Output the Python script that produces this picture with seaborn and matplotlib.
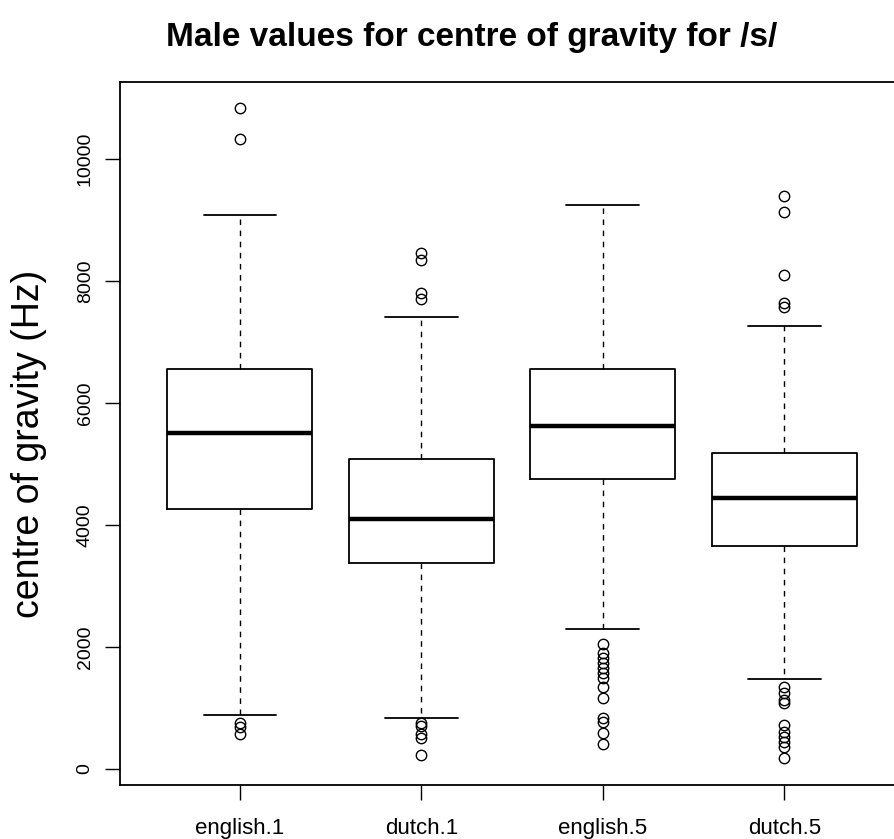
import matplotlib
matplotlib.use("Agg")
import matplotlib.pyplot as plt
import seaborn as sns

sns.set_style("white")
plt.rcParams["font.family"] = ["Liberation Sans", "DejaVu Sans"]
plt.rcParams["text.color"] = "black"
plt.rcParams["axes.labelcolor"] = "black"
plt.rcParams["xtick.color"] = "black"
plt.rcParams["ytick.color"] = "black"

# Summary statistics for each condition (Hz)
groups = ["english.1", "dutch.1", "english.5", "dutch.5"]
q1 = [4262, 3377, 4754, 3656]
medians = [5503, 4093, 5623, 4437]
q3 = [6562, 5077, 6562, 5175]
whisker_low = [880, 830, 2290, 1475]
whisker_high = [9082, 7410, 9246, 7268]

# Outlying observations beyond the whiskers
outliers_english1 = [10831, 10323, 760, 690, 570]
outliers_dutch1 = [8454, 8344, 7798, 7700, 760, 700, 580, 500, 230]
outliers_english5 = [2049, 1896, 1814, 1732, 1650, 1568, 1486, 1350, 1159,
                     830, 776, 585, 410]
outliers_dutch5 = [9393, 9136, 8098, 7644, 7579, 1339, 1240, 1131, 1076,
                   721, 612, 530, 448, 366, 175]
outliers = [outliers_english1, outliers_dutch1, outliers_english5, outliers_dutch5]

yticks = [0, 2000, 4000, 6000, 8000, 10000]

stats = []
for i, name in enumerate(groups):
    stats.append(dict(label=name, q1=q1[i], med=medians[i], q3=q3[i],
                      whislo=whisker_low[i], whishi=whisker_high[i],
                      fliers=outliers[i]))

fig = plt.figure(figsize=(8.95, 8.39), dpi=100)
ax = fig.add_axes([0.1341, 0.0644, 0.8760, 0.8379])

positions = list(range(1, len(groups) + 1))
ax.bxp(stats, positions=positions, widths=0.8, showfliers=True,
       boxprops=dict(color="black", linewidth=1.3),
       medianprops=dict(color="black", linewidth=3.2, solid_capstyle="butt"),
       whiskerprops=dict(color="black", linewidth=1.0, linestyle=(0, (4, 4))),
       capprops=dict(color="black", linewidth=1.3),
       capwidths=0.4,
       flierprops=dict(marker="o", markerfacecolor="none",
                       markeredgecolor="black", markersize=7.5,
                       markeredgewidth=1.0, linestyle="none"))

ax.set_xlim(0.34, 4.66)
ax.set_ylim(-262, 11262)
ax.set_xticks(positions)
ax.set_xticklabels(groups, fontsize=16)
ax.set_yticks(yticks)
ax.set_yticklabels([str(v) for v in yticks], fontsize=14, rotation=90,
                   va="center")
ax.tick_params(axis="both", direction="out", length=11, width=1.0,
               color="black", left=True, bottom=True)
ax.tick_params(axis="y", pad=8)
ax.tick_params(axis="x", pad=13)

for side in ["left", "top", "bottom", "right"]:
    ax.spines[side].set_visible(True)
    ax.spines[side].set_color("black")
    ax.spines[side].set_linewidth(1.3)

ax.set_ylabel("centre of gravity (Hz)", fontsize=27)
ax.yaxis.set_label_coords(-0.093, 0.485)
fig.text(0.527, 0.955, "Male values for centre of gravity for /s/",
         ha="center", va="center", fontsize=24, fontweight="bold",
         color="black")

fig.savefig("out.png", dpi=100, facecolor="white")
